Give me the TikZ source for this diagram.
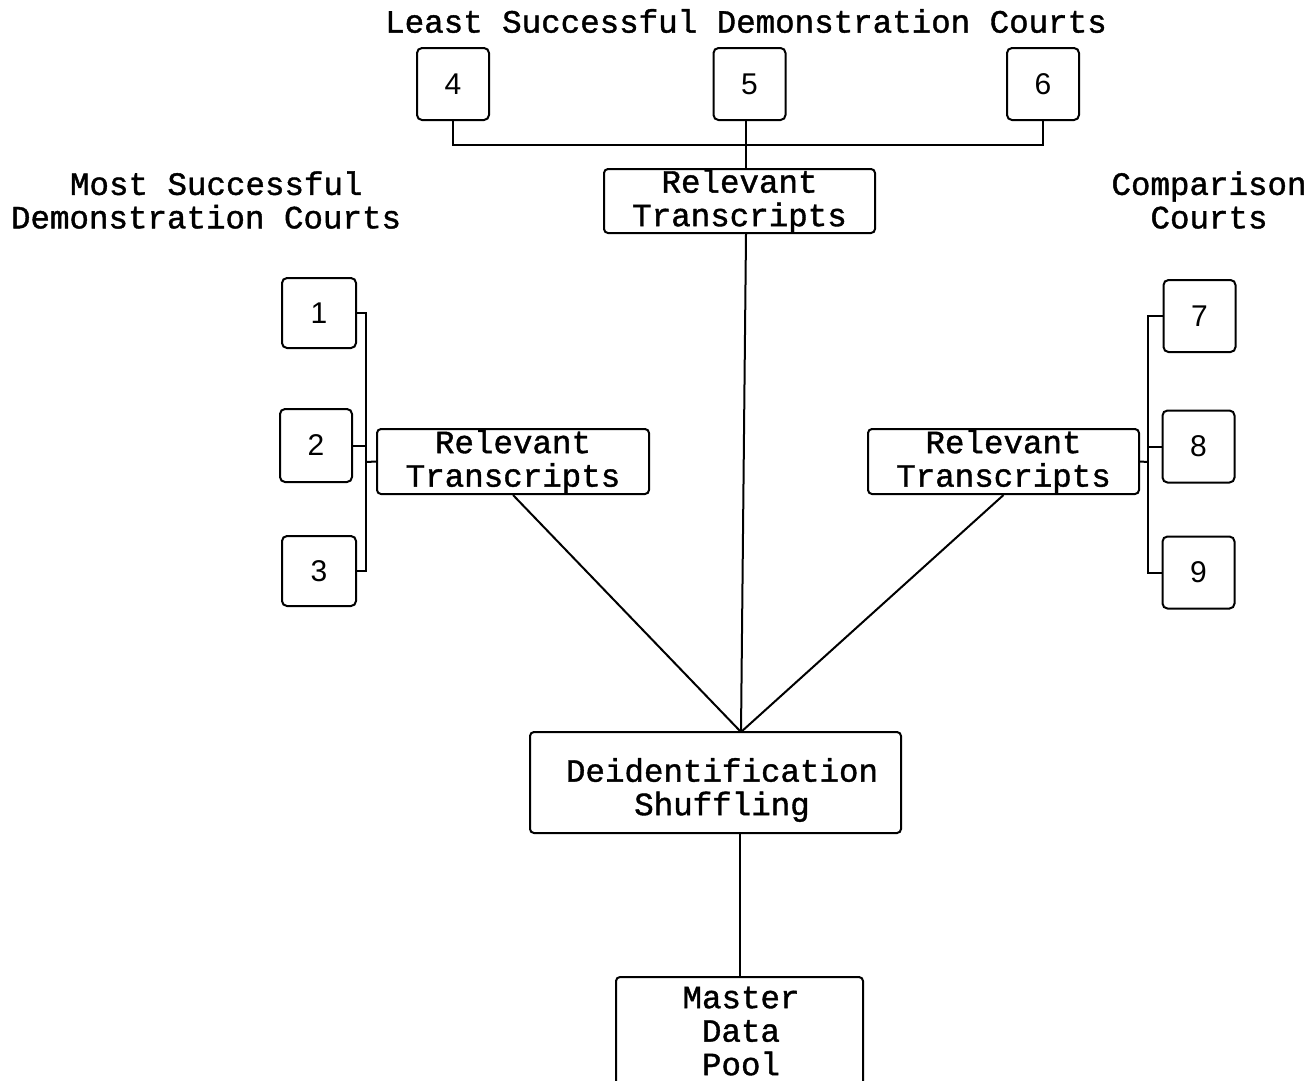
\documentclass[tikz,border=0pt]{standalone}
\usepackage{fontspec}
\setmainfont{Liberation Mono}[BoldFont=Liberation Mono, BoldFeatures={FakeBold=1.2}]
\newfontfamily\digitfont{Liberation Sans}
\begin{document}
\begin{tikzpicture}[x=1pt,y=-1pt,line width=2pt]
\tikzset{
  court/.style={draw, rounded corners=5pt, minimum width=72pt, minimum height=72pt,
    inner sep=0pt, font=\digitfont\fontsize{30}{30}\selectfont},
  panel/.style={draw, rounded corners=4pt, inner sep=0pt, align=center,
    font=\bfseries\fontsize{32.5}{33.5}\selectfont},
  caption/.style={align=center, inner sep=0pt, font=\bfseries\fontsize{32.5}{33.5}\selectfont},
  link/.style={line width=2pt}
}
\useasboundingbox (0,0) rectangle (1316,1080);
\clip (0,0) rectangle (1316,1080);

% group headings
\node[caption] (tLeast) at (746,21) {Least Successful Demonstration Courts};
\node[caption, align=left, anchor=west] (tMost) at (10,200) {\hspace*{59pt}Most Successful\\Demonstration Courts};
\node[caption] (tComp) at (1209,200) {Comparison\\Courts};

% least successful courts
\node[court] (b4) at (453,84) {4};
\node[court] (b5) at (749.5,84) {5};
\node[court] (b6) at (1043,84) {6};

% most successful courts
\node[court, minimum width=74pt, minimum height=70pt] (b1) at (319,313) {1};
\node[court, minimum height=73pt] (b2) at (316,445.5) {2};
\node[court, minimum width=74pt, minimum height=70pt] (b3) at (319,571) {3};

% comparison courts
\node[court] (b7) at (1199.5,316) {7};
\node[court] (b8) at (1198.5,446.5) {8};
\node[court] (b9) at (1198.5,572.5) {9};

% transcript panels
\node[panel, minimum width=271pt, minimum height=64pt] (rtT) at (739.5,201) {Relevant\\Transcripts};
\node[panel, minimum width=272pt, minimum height=65pt] (rtL) at (513,461.5) {Relevant\\Transcripts};
\node[panel, minimum width=271pt, minimum height=65pt] (rtR) at (1003.5,461.5) {Relevant\\Transcripts};

% processing and pool
\node[panel, minimum width=371pt, minimum height=101pt] (deid) at (715.5,782.5) {};
\node[caption] (deidtxt) at (722,790) {Deidentification\\Shuffling};
\node[panel, minimum width=247pt, minimum height=123pt] (pool) at (739.5,1038.5) {};
\node[caption] (pooltxt) at (741,1031) {Master\\Data\\Pool};

% top bus
\coordinate (busT) at (746,145);
\draw[link] (b4.south) |- (busT) -| (b6.south);
\draw[link] (b5.south -| busT) -- (busT |- rtT.north);

% left bus
\coordinate (busL) at (366,462);
\draw[link] (b1.east) -| (busL) |- (b3.east);
\draw[link] (b2.east) -- (b2.east -| busL);
\draw[link] (busL) -- (rtL.west);

% right bus
\coordinate (busR) at (1148,462);
\draw[link] (b7.west) -| (busR) |- (b9.west);
\draw[link] (b8.west) -- (b8.west -| busR);
\draw[link] (busR) -- (rtR.east);

% merge into deidentification
\coordinate (join) at (741,732);
\draw[link] (busT |- rtT.south) -- (join);
\draw[link] (rtL.south) -- (join);
\draw[link] (rtR.south) -- (join);
\draw[link] (deid.south -| pool.north) -- (pool.north);
\end{tikzpicture}
\end{document}
